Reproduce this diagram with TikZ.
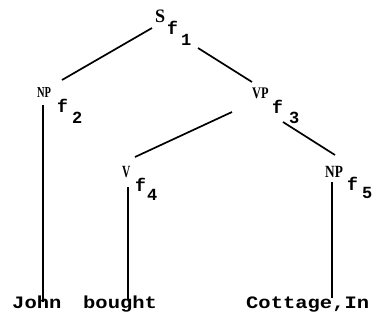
\documentclass[tikz,border=0pt]{standalone}
\usepackage{fontspec}
\usepackage{graphicx}
\newfontfamily\labfont{Liberation Serif}
\newfontfamily\subfont{Liberation Mono}
\newfontfamily\wordfont{Liberation Mono}
\newcommand{\wordsq}[1]{\scalebox{1}[0.85]{#1}}
\begin{document}
\begin{tikzpicture}[x=1pt,y=-1pt,
  mainlab/.style={inner sep=0pt, anchor=base west, font=\labfont\bfseries\fontsize{19}{19}\selectfont},
  flab/.style={inner sep=0pt, anchor=base west, font=\subfont\bfseries\fontsize{18}{18}\selectfont},
  dlab/.style={inner sep=0pt, anchor=base west, font=\subfont\bfseries\fontsize{17}{17}\selectfont},
  word/.style={inner sep=0pt, anchor=base west, font=\wordfont\bfseries\fontsize{20.5}{20.5}\selectfont},
  branch/.style={line width=1.7pt}]
\useasboundingbox (0,0) rectangle (376,325);
% S_{f_1}
\node[mainlab] (S) at (155,22) {\scalebox{0.95}[1]{S}};
\node[flab] (Sf) at (167,34) {f};
\node[dlab] (Sd) at (181,45) {1};
% NP_{f_2}
\node[mainlab] (NP2) at (37,97) {\scalebox{0.55}[0.8]{NP}};
\node[flab] (NP2f) at (57,112) {f};
\node[dlab] (NP2d) at (72,123) {2};
% VP_{f_3}
\node[mainlab] (VP) at (252,98) {\scalebox{0.65}[0.85]{VP}};
\node[flab] (VPf) at (272,113) {f};
\node[dlab] (VPd) at (289,123) {3};
% V_{f_4}
\node[mainlab] (V) at (122,177) {\scalebox{0.6}[0.9]{V}};
\node[flab] (Vf) at (135,191) {f};
\node[dlab] (Vd) at (147,200) {4};
% NP_{f_5}
\node[mainlab] (NP5) at (325,177) {\scalebox{0.7}[0.9]{NP}};
\node[flab] (NP5f) at (347,190) {f};
\node[dlab] (NP5d) at (362,198) {5};
% words
\node[word] (john) at (12,308) {\wordsq{John}};
\node[word] (bought) at (83,308) {\wordsq{bought}};
\node[word] (cottage) at (246,308) {\wordsq{Cottage,In}};
% connector end points
\coordinate (S-l) at (152,28);
\coordinate (S-r) at (198,48);
\coordinate (NP2-t) at (62,80);
\coordinate (NP2-b) at (43,105);
\coordinate (VP-t) at (252,82);
\coordinate (VP-l) at (232,112);
\coordinate (VP-r) at (283,122);
\coordinate (V-t) at (135,157);
\coordinate (V-b) at (128,187);
\coordinate (NP5-t) at (335,155);
\coordinate (NP5-b) at (332,182);
\coordinate (john-t) at (43,302);
\coordinate (bought-t) at (128,300);
\coordinate (cottage-t) at (332,298);
% branches
\draw[branch] (S-l) -- (NP2-t);
\draw[branch] (S-r) -- (VP-t);
\draw[branch] (VP-l) -- (V-t);
\draw[branch] (VP-r) -- (NP5-t);
\draw[branch] (NP2-b) -- (john-t);
\draw[branch] (V-b) -- (bought-t);
\draw[branch] (NP5-b) -- (cottage-t);
\end{tikzpicture}
\end{document}
